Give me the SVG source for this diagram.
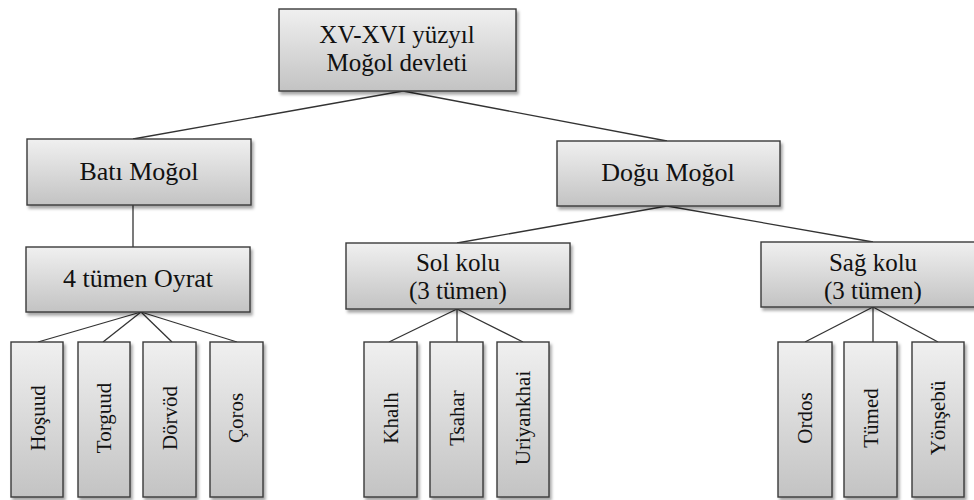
<svg xmlns="http://www.w3.org/2000/svg" width="974" height="500" viewBox="0 0 974 500">
  <defs>
    <linearGradient id="boxFill" x1="0" y1="0" x2="0" y2="1">
      <stop offset="0" stop-color="#f0f0f0"/>
      <stop offset="1" stop-color="#c3c3c3"/>
    </linearGradient>
    <filter id="shadow" x="-10%" y="-10%" width="130%" height="130%">
      <feDropShadow dx="2" dy="3" stdDeviation="1.6" flood-color="#000" flood-opacity="0.35"/>
    </filter>
  </defs>
  <style>
    .box { fill: url(#boxFill); stroke: #3a3a3a; stroke-width: 1.4; filter: url(#shadow); }
    text { font-family: "Liberation Serif", "Times New Roman", serif; fill: #111; text-anchor: middle; }
    .lbl { font-size: 25px; }
    .big { font-size: 26px; }
    .vlbl { font-size: 21px; }
    .edge { stroke: #333; stroke-width: 1.3; fill: none; }
  </style>
  <rect width="974" height="500" fill="#fff"/>

  <!-- connectors -->
  <g id="connectors">
    <line class="edge" x1="403" y1="91" x2="133" y2="139"/>
    <line class="edge" x1="403" y1="91" x2="667" y2="141"/>
    <line class="edge" x1="133" y1="205" x2="133" y2="247"/>
    <line class="edge" x1="141" y1="312" x2="38" y2="342"/>
    <line class="edge" x1="141" y1="312" x2="103" y2="342"/>
    <line class="edge" x1="141" y1="312" x2="172" y2="342"/>
    <line class="edge" x1="141" y1="312" x2="237" y2="342"/>
    <line class="edge" x1="667" y1="206" x2="457" y2="243"/>
    <line class="edge" x1="667" y1="206" x2="873" y2="242"/>
    <line class="edge" x1="457" y1="309" x2="389" y2="342"/>
    <line class="edge" x1="457" y1="309" x2="457" y2="342"/>
    <line class="edge" x1="457" y1="309" x2="523" y2="342"/>
    <line class="edge" x1="873" y1="307" x2="805" y2="342"/>
    <line class="edge" x1="873" y1="307" x2="873" y2="342"/>
    <line class="edge" x1="873" y1="307" x2="938" y2="342"/>
  </g>

  <!-- root -->
  <g id="root">
    <rect class="box" x="279" y="9" width="237" height="82"/>
    <text class="lbl" x="397" y="43">XV-XVI yüzyıl</text>
    <text class="lbl" x="397" y="71">Moğol devleti</text>
  </g>

  <!-- second level -->
  <g id="bati">
    <rect class="box" x="27" y="139" width="224" height="66"/>
    <text class="big" x="139" y="180">Batı Moğol</text>
  </g>
  <g id="dogu">
    <rect class="box" x="557" y="141" width="223" height="65"/>
    <text class="big" x="668" y="181">Doğu Moğol</text>
  </g>

  <!-- third level -->
  <g id="oyrat">
    <rect class="box" x="26" y="247" width="224" height="65"/>
    <text class="big" x="138" y="287">4 tümen Oyrat</text>
  </g>
  <g id="sol">
    <rect class="box" x="346" y="243" width="224" height="66"/>
    <text class="lbl" x="458" y="271">Sol kolu</text>
    <text class="lbl" x="458" y="299">(3 tümen)</text>
  </g>
  <g id="sag">
    <rect class="box" x="761" y="242" width="224" height="65"/>
    <text class="lbl" x="873" y="271">Sağ kolu</text>
    <text class="lbl" x="873" y="299">(3 tümen)</text>
  </g>

  <!-- leaves: labels read bottom to top -->
  <g id="hosuud">
    <rect class="box" x="11" y="342" width="52" height="155"/>
    <text class="vlbl" transform="translate(45,418) rotate(-90)">Hoşuud</text>
  </g>
  <g id="torguud">
    <rect class="box" x="78" y="342" width="52" height="155"/>
    <text class="vlbl" transform="translate(111,418) rotate(-90)">Torguud</text>
  </g>
  <g id="dorvod">
    <rect class="box" x="143" y="342" width="53" height="155"/>
    <text class="vlbl" transform="translate(177,418) rotate(-90)">Dörvöd</text>
  </g>
  <g id="coros">
    <rect class="box" x="210" y="342" width="53" height="155"/>
    <text class="vlbl" transform="translate(243,418) rotate(-90)">Çoros</text>
  </g>
  <g id="khalh">
    <rect class="box" x="364" y="342" width="53" height="155"/>
    <text class="vlbl" transform="translate(398,418) rotate(-90)">Khalh</text>
  </g>
  <g id="tsahar">
    <rect class="box" x="430" y="342" width="53" height="155"/>
    <text class="vlbl" transform="translate(464,418) rotate(-90)">Tsahar</text>
  </g>
  <g id="uriyankhai">
    <rect class="box" x="497" y="342" width="52" height="155"/>
    <text class="vlbl" transform="translate(530,418) rotate(-90)">Uriyankhai</text>
  </g>
  <g id="ordos">
    <rect class="box" x="778" y="342" width="54" height="155"/>
    <text class="vlbl" transform="translate(812,418) rotate(-90)">Ordos</text>
  </g>
  <g id="tumed">
    <rect class="box" x="844" y="342" width="53" height="155"/>
    <text class="vlbl" transform="translate(878,418) rotate(-90)">Tümed</text>
  </g>
  <g id="yonsebu">
    <rect class="box" x="912" y="342" width="52" height="155"/>
    <text class="vlbl" transform="translate(945,418) rotate(-90)">Yönşebü</text>
  </g>
</svg>
